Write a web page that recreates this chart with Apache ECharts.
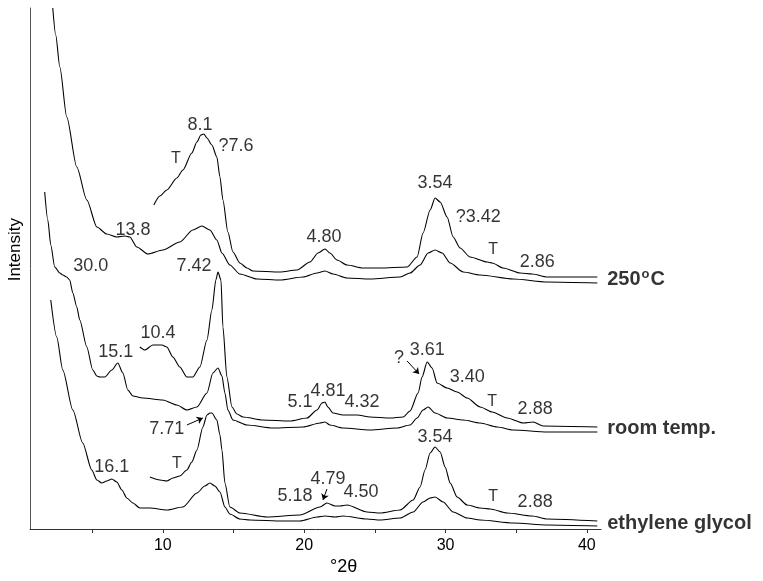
<!DOCTYPE html>
<html>
<head>
<meta charset="utf-8">
<script src="https://cdn.jsdelivr.net/npm/echarts@6/dist/echarts.min.js"></script>
<style>
  html, body { margin: 0; padding: 0; background: #fff; }
  #chart { width: 763px; height: 581px; }
</style>
</head>
<body>
<div id="chart"></div>
<script>
// traces: [°2θ, intensity (arbitrary, offset stacked)]
var hotFull = [[2.21,521],[2.42,494],[2.71,462],[3.20,412],[3.91,362],[4.62,329],[5.33,302],[6.03,295],[6.74,292],[7.31,293],[7.66,292],[8.16,282],[8.94,275],[10.0,279],[11.20,287],[12.12,299],[12.76,303],[13.33,299],[13.82,289],[14.18,276],[14.74,264],[15.45,255],[16.66,250],[18.29,249],[19.92,252],[20.91,256],[21.47,258],[22.04,255],[23.03,251],[24.66,250],[26.79,252],[27.49,256],[28.20,264],[28.77,276],[29.26,279],[29.76,276],[30.33,266],[31.25,257],[32.45,254],[34.79,250],[37.20,247],[40.74,246]];
var hotPart = [[9.36,324],[9.79,333],[10.28,339],[10.99,351],[11.42,359],[12.05,376],[12.41,387],[12.69,394],[12.90,395],[13.12,391],[13.47,384],[13.82,372],[14.04,352],[14.25,329],[14.60,297],[14.96,277],[15.45,266],[15.95,261],[16.37,258],[18.29,257],[19.49,259],[20.41,267],[20.98,276],[21.47,280],[21.82,276],[22.32,269],[23.03,264],[24.16,261],[25.37,261],[27.28,262],[27.99,272],[28.41,296],[28.91,319],[29.26,331],[29.62,327],[30.11,312],[30.54,292],[31.03,281],[31.74,272],[32.95,267],[33.30,266],[34.08,261],[35.28,256],[36.13,255],[37.20,252],[40.74,252]];
var roomFull = [[1.64,337],[1.86,309],[2.07,284],[2.35,262],[2.71,256],[2.92,254],[3.20,252],[3.41,249],[3.63,236],[3.91,222],[4.12,209],[4.62,182],[5.04,159],[5.33,153],[5.54,152],[5.89,152],[6.39,159],[6.81,166],[7.17,156],[7.52,139],[7.88,133],[8.58,131],[10.0,129],[10.99,124],[11.70,119],[12.41,122],[13.12,136],[13.54,156],[13.90,161],[14.18,153],[14.39,136],[14.60,119],[14.96,109],[15.95,104],[17.79,101],[19.92,102],[21.12,106],[21.47,107],[21.82,104],[22.74,101],[24.66,99],[26.57,101],[27.49,104],[27.99,111],[28.41,119],[28.77,122],[29.26,116],[30.11,111],[31.25,109],[32.45,106],[33.66,102],[34.79,99],[37.20,97],[40.74,97]];
var roomPart = [[8.37,182],[8.73,179],[9.29,184],[9.93,184],[10.28,182],[10.71,172],[11.20,162],[11.70,152],[12.12,152],[12.62,162],[13.12,189],[13.47,219],[13.75,249],[13.90,257],[14.11,249],[14.25,202],[14.53,152],[14.89,122],[15.24,115],[15.67,112],[17.08,109],[18.99,108],[20.20,111],[20.91,119],[21.26,126],[21.47,127],[21.67,122],[22.04,116],[22.74,114],[23.74,114],[24.66,112],[26.08,111],[27.0,112],[27.49,118],[28.06,136],[28.34,152],[28.70,167],[29.05,161],[29.40,146],[30.11,141],[30.82,137],[31.53,131],[32.45,122],[33.30,117],[34.36,111],[35.50,106],[36.20,107],[36.91,103],[40.74,102]];
var glycolFull = [[2.07,229],[2.49,192],[2.92,159],[3.63,119],[4.33,86],[4.97,59],[5.33,49],[5.68,46],[6.03,48],[6.39,50],[6.74,47],[7.10,39],[7.45,31],[7.88,26],[8.37,21],[9.08,21],[10.28,19],[11.42,22],[12.41,36],[12.97,43],[13.33,46],[13.68,43],[14.04,37],[14.39,22],[14.74,15],[15.45,10],[16.16,9],[18.50,8],[19.70,8],[20.91,12],[21.47,13],[22.18,12],[22.74,13],[24.45,10],[25.37,9],[26.79,11],[27.71,17],[28.41,27],[28.91,31],[29.26,32],[29.83,27],[30.54,17],[31.53,11],[32.45,9],[34.79,6],[37.20,4],[40.74,3]];
var glycolPart = [[9.08,52],[9.79,49],[10.28,48],[10.71,51],[11.20,53],[11.70,59],[12.05,67],[12.41,79],[12.83,102],[13.12,114],[13.33,116],[13.47,116],[13.82,109],[14.04,94],[14.18,79],[14.39,46],[14.74,22],[15.45,16],[17.37,12],[19.70,14],[21.12,22],[21.61,26],[22.18,23],[22.53,23],[23.03,24],[24.45,17],[25.37,16],[26.79,19],[27.71,29],[28.20,42],[28.55,59],[28.91,76],[29.26,82],[29.62,77],[29.97,62],[30.33,46],[30.82,32],[31.53,24],[32.45,21],[33.16,20],[34.36,16],[36.13,13],[37.20,10],[40.74,8]];

var xTicks = [5, 10, 15, 20, 25, 30, 35, 40];
var xLabels = [10, 20, 30, 40];

// d-spacing notes [°2θ, intensity, text]
var peakNotes = [
  [12.62,404,'8.1'],[15.17,383,'?7.6'],[7.88,299,'13.8'],[21.40,292,'4.80'],
  [29.26,346,'3.54'],[32.31,312,'?3.42'],[36.49,267,'2.86'],
  [4.90,263,'30.0'],[12.20,263,'7.42'],[6.67,177,'15.1'],[9.65,196,'10.4'],
  [19.70,127,'5.1'],[21.68,138,'4.81'],[24.09,127,'4.32'],[26.71,171,'?'],
  [28.70,179,'3.61'],[31.53,152,'3.40'],[36.34,120,'2.88'],
  [10.28,100,'7.71'],[6.39,62,'16.1'],[19.35,33,'5.18'],[21.68,50,'4.79'],
  [24.02,37,'4.50'],[29.26,92,'3.54'],[36.34,27,'2.88']
];
var talcNotes = [[10.92,370,'T'],[33.37,279,'T'],[33.30,127,'T'],[10.99,65,'T'],[33.37,32,'T']];
var sampleNames = [[41.44,250,'250°C'],[41.44,101,'room temp.'],[41.44,6,'ethylene glycol']];
var arrows = [
  [[11.70,104],[12.83,111]],
  [[27.28,168],[28.13,155]],
  [[21.61,40],[21.33,29]]
];

var chart = echarts.init(document.getElementById('chart'));
var font = "'Liberation Sans', Arial, sans-serif";

function trace(data) {
  return {
    type: 'line', data: data, showSymbol: false, smooth: 0.25, smoothMonotone: 'x',
    lineStyle: { color: '#000', width: 1.1 }, silent: true
  };
}
function notes(data, size) {
  return {
    type: 'scatter', data: data, symbolSize: 0, clip: false, silent: true,
    itemStyle: { color: '#000' },
    label: {
      show: true, position: 'inside', color: '#000', textBorderWidth: 0,
      fontFamily: font, fontSize: size,
      formatter: function (p) { return p.value[2]; }
    }
  };
}

var arrowSeries = notes([], 18);
arrowSeries.markLine = {
  silent: true, symbol: ['none', 'arrow'], symbolSize: 6, animation: false,
  label: { show: false },
  lineStyle: { color: '#000', width: 1, type: 'solid' },
  data: arrows.map(function (a) { return [{ coord: a[0] }, { coord: a[1] }]; })
};

var nameSeries = notes(sampleNames, 20);
nameSeries.label = {
  show: true, position: 'right', distance: 0, align: 'left', color: '#000', textBorderWidth: 0,
  fontFamily: font, fontSize: 20, fontWeight: 'bold',
  formatter: function (p) { return p.value[2].replace('°', '{sup|o}'); },
  rich: { sup: { fontSize: 13, fontWeight: 'bold', fontFamily: font, color: '#000', padding: [0, 1, 9, 1] } }
};

chart.setOption({
  animation: false,
  grid: { left: 30, right: 162, top: 8, bottom: 52 },
  xAxis: {
    type: 'value', min: 0.6, max: 41,
    axisLine: { lineStyle: { color: '#333', width: 1 } },
    axisTick: { customValues: xTicks, length: 4, lineStyle: { color: '#333' } },
    axisLabel: { customValues: xLabels, color: '#000', fontFamily: font, fontSize: 16, margin: 9 },
    splitLine: { show: false }
  },
  yAxis: {
    type: 'value', min: 0, max: 521,
    axisLine: { show: true, lineStyle: { color: '#555', width: 1 } },
    axisTick: { show: false }, axisLabel: { show: false }, splitLine: { show: false }
  },
  graphic: [
    { type: 'text', left: 7, top: 218, rotation: Math.PI / 2,
      style: { text: 'Intensity', font: '17px ' + font, fill: '#000' } },
    { type: 'text', left: 330, top: 558,
      style: { text: '°2θ', font: '18px ' + font, fill: '#000' } }
  ],
  series: [
    trace(hotFull), trace(hotPart), trace(roomFull), trace(roomPart),
    trace(glycolFull), trace(glycolPart),
    notes(peakNotes, 18), notes(talcNotes, 16), arrowSeries, nameSeries
  ]
});
</script>
</body>
</html>
